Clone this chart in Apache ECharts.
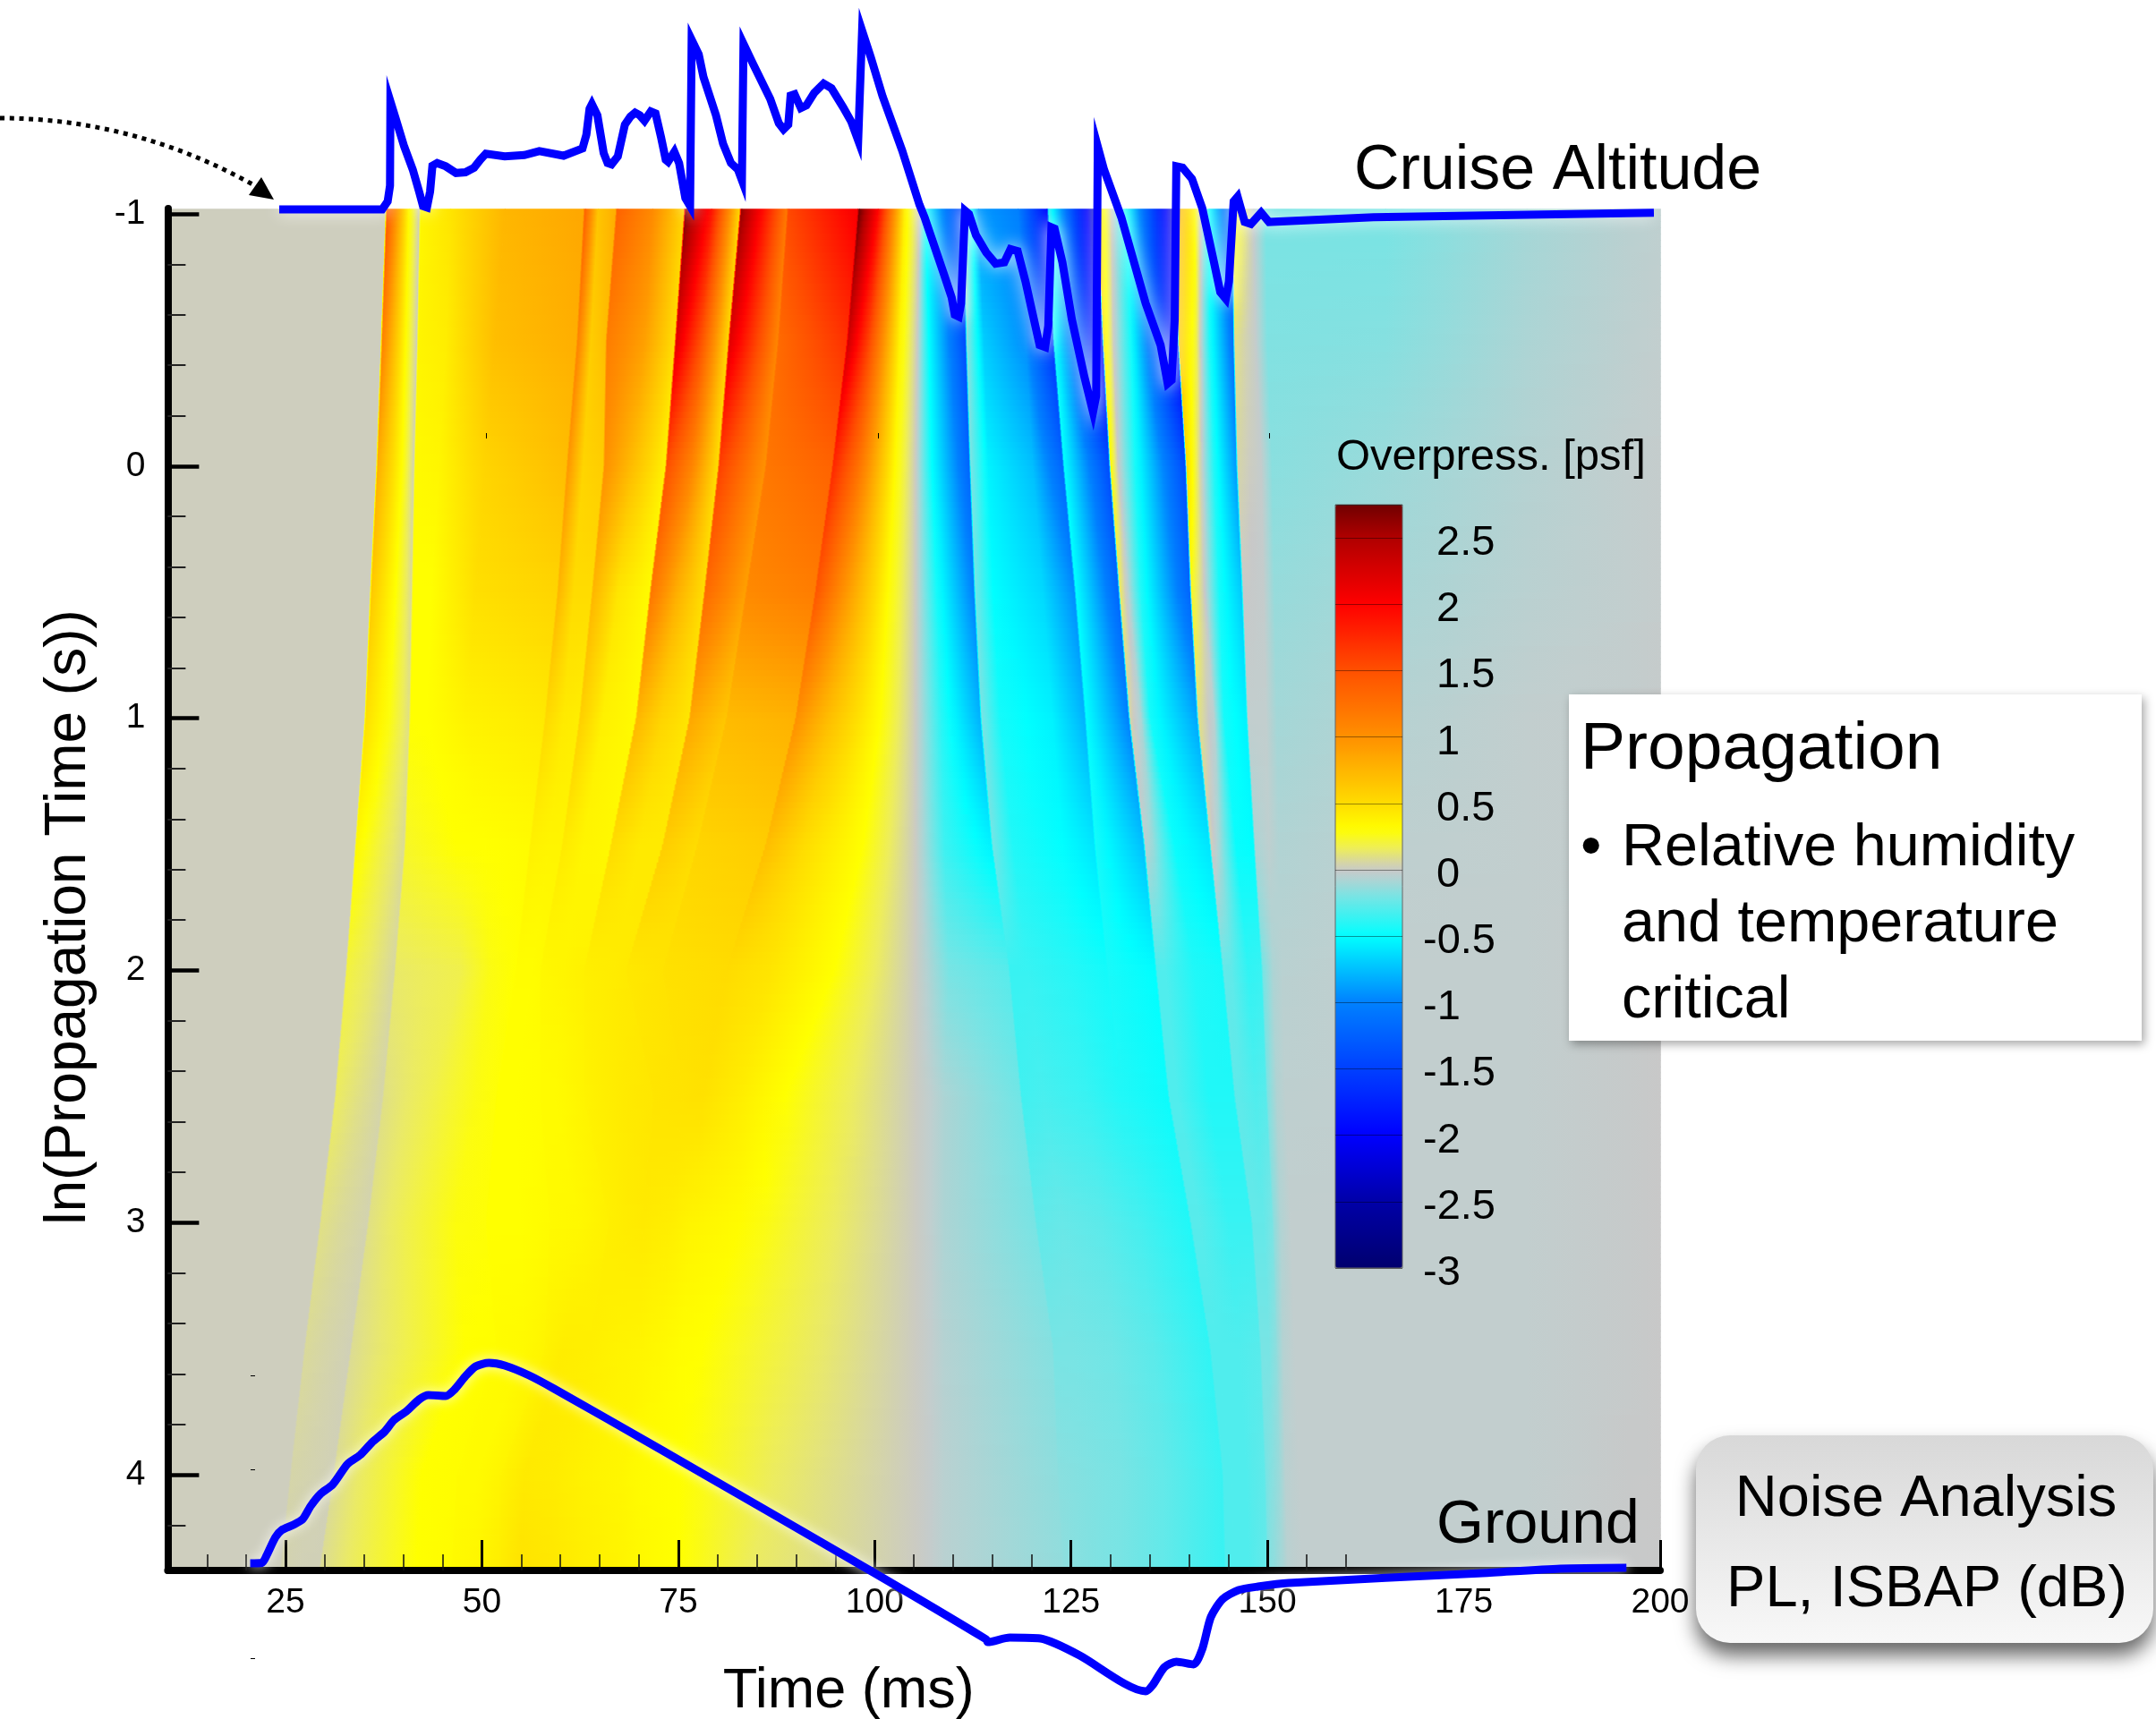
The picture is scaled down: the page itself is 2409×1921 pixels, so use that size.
<!DOCTYPE html>
<html><head><meta charset="utf-8">
<script src="https://cdn.jsdelivr.net/npm/echarts@6/dist/echarts.min.js"></script>
<style>html,body{margin:0;padding:0;background:#fff}#c{width:2409px;height:1921px}</style>
</head><body><div id="c"></div>
<script>
// ---- DATA ----
const xMajorLabels = [25,50,75,100,125,150,175,200];
const xMajorTicks = [25,50,75,100,125,150,200];
const xMinorTicks = [15,20,30,35,40,45,55,60,65,70,80,85,90,95,105,110,115,120,130,135,140,145,155,160];
const yMajorTicks = [-1,0,1,2,3,4];
const yMinorTicks = [-0.8,-0.6,-0.4,-0.2,0.2,0.4,0.6,0.8,1.2,1.4,1.6,1.8,2.2,2.4,2.6,2.8,3.2,3.4,3.6,3.8,4.2];

// ln(propagation time) of each row of the field
const fieldLevels = [-1.02,-0.5,0,0.5,1,1.5,2,2.5,3,3.5,4,4.38];

// Time (ms) of each wave feature at each level; null = the far side of a shock (just after the previous column)
const featureTimes = [
 [10,10,10,10,10,10,10,10,10,10,10,10],
 [37.7,37.1,36.5,35.7,35.0,33.8,32.6,31.2,29.3,27.3,25.5,24.2],
 null,
 [40.7,40.3,39.8,39.0,38.2,37.0,35.7,34.2,32.0,30.1,28.2,27.0],
 [42.0,41.7,41.3,41.0,40.7,40.1,38.8,37.3,35.4,33.2,31.0,29.2],
 null,
 [46.0,45.4,44.5,43.5,42.9,46.7,47.3,43.5,40.4,40.4,37.3,36.0],
 [52.9,51.7,50.4,49.2,47.9,50.4,51.0,49.2,46.7,47.9,42.3,41.7],
 [62.9,62.0,60.7,59.5,57.9,56.0,54.2,51.7,50.4,51.7,46.7,46.0],
 null,
 [64.8,63.9,62.9,61.7,60.4,58.5,56.3,54.2,54.8,55.4,49.2,49.2],
 [67.0,65.7,65.4,63.9,62.3,60.1,57.3,57.3,58.5,57.9,52.3,52.3],
 null,
 [71.7,70.7,69.2,67.3,65.4,62.9,60.4,59.2,62.3,60.4,55.4,54.8],
 [75.7,74.5,73.3,71.3,69.5,66.3,62.9,62.9,66.0,63.5,58.5,57.9],
 null,
 [79.2,77.9,76.7,74.8,72.9,70.1,66.7,68.5,68.5,67.3,62.3,62.3],
 [82.8,81.3,80.0,78.2,76.3,72.9,68.2,71.7,70.4,69.8,67.3,66.7],
 null,
 [88.8,87.6,86.0,83.5,81.0,77.3,72.9,75.4,73.5,72.3,70.4,69.8],
 null,
 [97.8,96.4,94.5,92.3,89.8,86.0,81.0,77.9,76.7,75.4,74.8,74.8],
 null,
 [100.4,99.2,97.9,96.0,94.2,91.0,86.7,82.9,82.9,77.9,77.9,77.9],
 [103.8,103.2,102.6,101.7,100.7,98.5,94.8,88.5,89.8,87.3,87.3,84.2],
 [105.7,105.4,105.2,105.2,105.2,105.2,105.2,105.3,105.3,105.3,105.3,105.3],
 [106.5,106.9,107.3,107.9,108.5,108.9,109.5,108.9,108.9,108.9,108.9,108.9],
 [111.2,111.5,112.0,112.6,113.4,114.8,117.0,118.5,120.4,122.6,123.2,123.9],
 null,
 [113.2,113.9,114.5,115.1,116.0,117.6,119.5,121.4,123.9,125.1,127.0,127.6],
 [118.2,119.2,120.1,121.4,122.6,123.9,124.5,127.0,128.9,130.1,131.4,131.4],
 [121.9,122.6,123.9,125.4,126.7,127.9,129.5,131.4,133.2,135.1,136.4,136.4],
 null,
 [128.2,128.9,129.8,131.0,132.3,134.2,135.7,137.3,140.1,142.6,144.2,144.5],
 null,
 [130.1,130.4,131.0,132.3,133.9,135.4,137.0,138.5,141.4,143.5,145.4,145.7],
 [132.0,132.6,133.2,133.9,135.1,138.2,140.7,142.6,145.1,146.4,147.3,147.6],
 [138.2,138.5,139.5,140.1,141.0,142.6,144.2,145.7,147.9,149.0,149.6,149.9],
 null,
 [140.7,140.9,141.4,142.0,143.2,143.9,145.4,146.7,148.7,149.6,150.2,150.5],
 [142.6,142.7,143.2,143.9,144.5,146.0,147.6,148.5,149.5,150.2,150.7,151.0],
 [145.4,145.6,146.0,146.7,147.3,148.2,149.2,149.8,150.6,151.1,151.5,151.7],
 null,
 [148.2,148.5,149.2,149.5,149.8,150.2,150.7,151.2,151.7,152.0,152.3,152.6],
 [149.8,150.0,150.6,150.9,151.2,151.5,151.9,152.3,153.0,153.5,154.0,154.5],
 [165,165,165,165,165,165,165,165,165,165,165,165],
 [183,183,183,183,183,183,183,183,183,183,183,183],
 [196,196,196,196,196,196,196,196,196,196,196,196],
 [200,200,200,200,200,200,200,200,200,200,200,200]
];

// Overpressure (psf) of each wave feature at each level
const featureValues = [
 [.02,.02,.02,.02,.02,.02,.02,.02,.02,.02,.02,.02],
 [.02,.02,.02,.02,.02,.02,.02,.02,.02,.02,.02,.02],
 [1.45,1.1,.8,.62,.48,.33,.2,.15,.1,.07,.05,.04],
 [.33,.32,.32,.3,.28,.2,.14,.1,.07,.05,.04,.03],
 [.03,.03,.04,.08,.1,.08,.06,.05,.04,.03,.03,.03],
 [.35,.36,.33,.3,.3,.24,.14,.1,.1,.08,.08,.08],
 [.45,.4,.35,.3,.3,.3,.18,.18,.18,.18,.2,.2],
 [.75,.7,.55,.48,.37,.3,.27,.27,.28,.3,.3,.3],
 [.85,.8,.7,.55,.42,.32,.3,.29,.29,.31,.31,.32],
 [1.35,1.1,.95,.75,.52,.38,.31,.3,.3,.32,.32,.33],
 [.65,.6,.55,.5,.42,.36,.31,.3,.3,.33,.32,.35],
 [.8,.7,.6,.5,.4,.36,.32,.31,.32,.36,.36,.4],
 [1.35,1.15,1,.75,.58,.42,.34,.32,.33,.37,.37,.41],
 [1.05,.9,.7,.45,.38,.36,.36,.32,.34,.4,.42,.46],
 [.55,.5,.38,.33,.33,.34,.38,.36,.38,.39,.41,.44],
 [2.7,2.2,1.5,1.2,.75,.5,.39,.37,.39,.39,.41,.44],
 [1.9,1.5,1.1,.8,.55,.42,.41,.42,.41,.37,.38,.4],
 [.55,.55,.5,.5,.45,.42,.42,.44,.42,.36,.35,.37],
 [2.6,2.2,1.6,1.3,.85,.6,.43,.45,.42,.36,.35,.37],
 [1.2,1.1,1,.9,.65,.5,.46,.46,.4,.34,.32,.34],
 [1.55,1.3,1.2,1.05,.72,.55,.47,.46,.4,.34,.32,.34],
 [2.05,1.7,1.35,1.15,.78,.6,.5,.47,.36,.31,.3,.3],
 [2.75,2.3,1.75,1.45,1,.7,.5,.47,.36,.31,.3,.3],
 [2,1.6,1.25,1,.7,.5,.45,.4,.32,.3,.27,.26],
 [.4,.36,.33,.32,.31,.3,.3,.3,.22,.2,.15,.15],
 [.01,.01,.01,.01,.01,.01,.01,.01,.01,.01,.01,.01],
 [-.5,-.5,-.5,-.45,-.4,-.35,-.2,-.08,-.08,-.06,-.05,-.05],
 [-1.5,-1.4,-1.2,-1,-.8,-.55,-.28,-.22,-.2,-.17,-.15,-.14],
 [-.1,-.15,-.2,-.22,-.2,-.22,-.36,-.34,-.26,-.2,-.16,-.15],
 [-.9,-.7,-.55,-.5,-.45,-.42,-.36,-.32,-.24,-.2,-.18,-.18],
 [-1,-.95,-.75,-.65,-.55,-.5,-.4,-.36,-.27,-.22,-.2,-.2],
 [-1.9,-1.6,-1.2,-.95,-.8,-.6,-.45,-.42,-.32,-.27,-.25,-.25],
 [-.35,-.45,-.5,-.5,-.5,-.45,-.44,-.42,-.32,-.27,-.25,-.25],
 [-2.4,-2.1,-1.4,-1.2,-1,-.75,-.5,-.47,-.42,-.38,-.36,-.36],
 [.55,.42,.3,.15,.05,-.05,-.3,-.3,-.28,-.3,-.3,-.3],
 [.02,.01,0,-.05,-.08,-.12,-.3,-.3,-.28,-.3,-.3,-.3],
 [-.45,-.45,-.45,-.42,-.45,-.48,-.42,-.42,-.36,-.3,-.3,-.3],
 [-2.3,-2,-1.4,-1.2,-.85,-.6,-.45,-.42,-.36,-.28,-.26,-.25],
 [.8,.6,.5,.25,.1,.03,-.25,-.26,-.25,-.2,-.2,-.18],
 [.35,.2,.05,0,-.05,-.1,-.26,-.27,-.25,-.2,-.18,-.16],
 [-.5,-.45,-.42,-.45,-.45,-.48,-.38,-.3,-.25,-.2,-.16,-.14],
 [-1.3,-1.1,-.9,-.7,-.55,-.5,-.36,-.28,-.2,-.15,-.12,-.1],
 [.3,.1,.05,0,-.03,-.08,-.2,-.18,-.15,-.12,-.1,-.09],
 [-.02,-.02,-.02,-.02,-.03,-.04,-.08,-.07,-.07,-.06,-.05,-.05],
 [-.2,-.18,-.16,-.13,-.1,-.07,-.05,-.04,-.03,-.03,-.03,-.03],
 [-.2,-.17,-.12,-.09,-.06,-.04,-.03,-.03,-.03,-.03,-.03,-.03],
 [-.1,-.08,-.06,-.05,-.03,-.03,-.03,-.03,-.03,-.03,-.03,-.03],
 [-.05,-.04,-.03,-.03,-.02,-.02,-.01,-.01,-.01,-.01,-.005,-.005],
 [-.04,-.03,-.02,-.02,-.01,0,0,0,0,0,0,0]
];
const shockWidthMs = 0.25;

// Cruise-altitude waveform: [time ms, overpressure psf]
const cruiseWave = [[24.2,0],[37.3,0],[38,.12],[38.3,.36],[38.35,1.63],[39,1.38],[40.1,.95],[41.2,.6],[42,.27],[42.5,.05],[43,.03],[43.4,.27],[43.7,.66],[44.3,.7],[45.4,.65],[46.7,.55],[47.9,.56],[49,.63],[49.8,.75],[50.5,.84],[52.9,.8],[55.4,.82],[57.3,.88],[60.4,.81],[62.8,.92],[63.3,1.13],[63.7,1.52],[64,1.59],[64.7,1.42],[65.5,.85],[66,.7],[66.5,.68],[67.3,.8],[68.2,1.28],[68.9,1.4],[69.5,1.46],[70.1,1.42],[70.7,1.34],[71.5,1.48],[72.1,1.45],[72.8,1.09],[73.4,.75],[73.7,.72],[74.5,.87],[75.1,.7],[75.9,.17],[76.5,.05],[76.7,2.56],[77.6,2.34],[78.2,2],[79.8,1.42],[80.7,.99],[81.7,.7],[82.6,.6],[83.1,.44],[83.3,2.5],[84.5,2.2],[86.7,1.67],[87.8,1.3],[88.4,1.21],[89,1.28],[89.3,1.72],[89.8,1.74],[90.6,1.53],[91.3,1.57],[92.3,1.76],[93.5,1.9],[94.5,1.83],[96,1.54],[97,1.33],[97.9,1.04],[98.4,2.7],[99.5,2.3],[101,1.71],[103.5,.89],[105.7,.07],[106.35,-.12],[108.85,-.99],[109.8,-1.33],[110.2,-1.59],[110.7,-1.62],[111,-1.42],[111.5,-.02],[112,-.07],[112.9,-.39],[114.2,-.65],[115.4,-.82],[116.5,-.8],[117.3,-.6],[118.2,-.63],[119.2,-1.09],[120.1,-1.57],[121,-2.05],[121.7,-2.08],[122.1,-1.76],[122.5,-.27],[122.9,-.29],[123.9,-.8],[125.1,-1.66],[126.7,-2.53],[127.8,-3.06],[128.2,-2.82],[128.4,.95],[129.2,.6],[131.4,-.12],[134.5,-1.42],[136.4,-2.05],[137.3,-2.63],[137.8,-2.58],[138.2,-1.66],[138.4,.65],[139.2,.63],[140.4,.46],[141.7,.02],[143.2,-.8],[144,-1.25],[144.7,-1.35],[145.1,-1.09],[145.7,.12],[146.2,.19],[147.1,-.19],[147.9,-.22],[149.2,-.05],[150.2,-.19],[163.5,-.12],[199.2,-.05]];

// Ground waveform: [time ms, overpressure psf]
const groundWave = [[20.5,.006],[22,.007],[22.6,.024],[23.7,.064],[24.5,.08],[26,.092],[27.2,.105],[28.2,.134],[29.5,.162],[31,.182],[32.9,.228],[34.5,.248],[36,.276],[37.6,.3],[38.8,.326],[40.4,.346],[42,.372],[43.2,.382],[45.4,.38],[46.5,.394],[47.9,.424],[49.2,.446],[50.9,.454],[52.9,.448],[56,.426],[59.2,.396],[72.6,.262],[99.8,-.014],[114.2,-.164],[114.4,-.17],[117.2,-.16],[121.1,-.162],[123.1,-.174],[126.1,-.2],[134.5,-.28],[135.4,-.266],[136.9,-.226],[138.4,-.214],[140.6,-.22],[141.7,-.186],[142.8,-.114],[144.3,-.074],[146.3,-.054],[148.8,-.046],[152.7,-.038],[177.4,-.016],[187.3,-.006],[195.7,-.004]];

// Colour scale of the contour legend
const colorStops = [[-3,'#00006e'],[-2.5,'#0000a8'],[-2,'#0000ff'],[-1.5,'#0040ff'],[-1,'#0080ff'],[-0.5,'#00ffff'],[-0.2,'#78e4e4'],[-0.03,'#c2cece'],[0,'#c8c8c8'],[0.02,'#cecebe'],[0.15,'#ecec60'],[0.3,'#ffff00'],[0.5,'#ffdc00'],[1,'#ff9000'],[1.5,'#ff5000'],[2,'#ff0000'],[2.5,'#b00000'],[2.75,'#700000']];
const legendMin = -3, legendMax = 2.75;

// ---- helpers ----
const FONT = '"Liberation Sans", Arial, Helvetica, sans-serif';
const parsedStops = colorStops.map(s => [s[0], parseInt(s[1].slice(1,3),16), parseInt(s[1].slice(3,5),16), parseInt(s[1].slice(5,7),16)]);
function colorOf(v){
  const p = parsedStops;
  if (v <= p[0][0]) v = p[0][0];
  if (v >= p[p.length-1][0]) v = p[p.length-1][0];
  for (let i=0;i<p.length-1;i++){
    if (v <= p[i+1][0]){
      const f = (v-p[i][0])/(p[i+1][0]-p[i][0]);
      return 'rgb('+[1,2,3].map(k=>Math.round(p[i][k]+(p[i+1][k]-p[i][k])*f)).join(',')+')';
    }
  }
  return 'rgb(0,0,0)';
}
const legendColors = [];
for (let i=0;i<=230;i++) legendColors.push(colorOf(legendMin+(legendMax-legendMin)*i/230));

const resolvedTimes = [];
featureTimes.forEach((col,c)=>{
  resolvedTimes.push(col ? col : resolvedTimes[c-1].map(t=>t+shockWidthMs));
});
const fieldCells = [];
for (let r=0;r<fieldLevels.length-1;r++){
  for (let c=0;c<resolvedTimes.length-1;c++){
    fieldCells.push([resolvedTimes[c][r], fieldLevels[r], featureValues[c][r], r, c]);
  }
}

function renderCell(params, api){
  const r = api.value(3), c = api.value(4);
  const tl = api.coord([resolvedTimes[c][r], fieldLevels[r]]);
  const tr = api.coord([resolvedTimes[c+1][r], fieldLevels[r]]);
  const bl = api.coord([resolvedTimes[c][r+1], fieldLevels[r+1]]);
  const br = api.coord([resolvedTimes[c+1][r+1], fieldLevels[r+1]]);
  const vtl = featureValues[c][r], vtr = featureValues[c+1][r];
  const vbl = featureValues[c][r+1], vbr = featureValues[c+1][r+1];
  const n = Math.max(1, Math.ceil((bl[1]-tl[1])/7));
  const children = [];
  for (let i=0;i<n;i++){
    const a=i/n, b=(i+1)/n, m=(a+b)/2;
    const xl0=tl[0]+(bl[0]-tl[0])*a, xl1=tl[0]+(bl[0]-tl[0])*b;
    const xr0=tr[0]+(br[0]-tr[0])*a, xr1=tr[0]+(br[0]-tr[0])*b;
    const y0=tl[1]+(bl[1]-tl[1])*a, y1=tl[1]+(bl[1]-tl[1])*b;
    const vl=vtl+(vbl-vtl)*m, vr=vtr+(vbr-vtr)*m;
    const ns=Math.max(2,Math.min(12,Math.ceil(Math.abs(vr-vl)*8)+2));
    const stops=[];
    for (let k=0;k<ns;k++){const f=k/(ns-1);stops.push({offset:f,color:colorOf(vl+(vr-vl)*f)});}
    const gx0=(xl0+xl1)/2, gx1=Math.max((xr0+xr1)/2,gx0+0.05);
    children.push({type:'polygon',silent:true,
      shape:{points:[[xl0,y0],[xr0+0.8,y0],[xr1+0.8,y1+0.8],[xl1,y1+0.8]]},
      style:{fill:new echarts.graphic.LinearGradient(gx0,0,gx1,0,stops,true)}});
  }
  return {type:'group',children};
}

const chart = echarts.init(document.getElementById('c'),null,{renderer:'canvas'});
const L=187.4,W=1667.6,T=233,H=1522;
function text(x,y,str,size,align,extra){
  return Object.assign({type:'text',x,y,z:20,silent:true,style:{text:str,font:size+'px '+FONT,fill:'#000',textAlign:align||'left',textVerticalAlign:'middle'}},extra||{});
}
const tinyMarks=[[543,484,1,6],[981,484,1,6],[1418,484,1,6],[280,1537,5,1],[280,1642,5,1],[280,1853,5,1]];
chart.setOption({
  animation:false,
  backgroundColor:'#fff',
  grid:[
    {left:L,top:T,width:W,height:H,outerBoundsMode:'none'},
    {left:L,top:0,width:W,height:500,outerBoundsMode:'none'},
    {left:L,top:1400,width:W,height:521,outerBoundsMode:'none'},
    {left:1492,top:564,width:75,height:853,show:true,z:9,backgroundColor:'transparent',borderColor:'#666',borderWidth:1,outerBoundsMode:'none'}
  ],
  xAxis:[
    {gridIndex:0,type:'value',min:10,max:200,position:'bottom',z:5,
      name:'Time (ms)',nameLocation:'middle',nameGap:104,
      nameTextStyle:{fontFamily:FONT,fontSize:63,color:'#000',padding:[0,146,0,0]},
      axisLine:{show:true,onZero:false,lineStyle:{color:'#000',width:8}},
      axisTick:{show:true,inside:true,length:34,customValues:xMajorTicks,lineStyle:{color:'#000',width:3}},
      axisLabel:{show:true,customValues:xMajorLabels,margin:17,fontFamily:FONT,fontSize:39,color:'#000'},
      splitLine:{show:false}},
    {gridIndex:0,type:'value',min:10,max:200,position:'bottom',z:5,
      axisLine:{show:false,onZero:false},
      axisTick:{show:true,inside:true,length:18,customValues:xMinorTicks,lineStyle:{color:'#111',width:1.5}},
      axisLabel:{show:false},splitLine:{show:false}},
    {gridIndex:1,type:'value',min:10,max:200,show:false},
    {gridIndex:2,type:'value',min:10,max:200,show:false},
    {gridIndex:3,type:'value',min:0,max:1,show:false}
  ],
  yAxis:[
    {gridIndex:0,type:'value',min:-1.021,max:4.379,inverse:true,position:'left',z:5,
      name:'ln(Propagation Time (s))',nameLocation:'middle',nameGap:78,nameRotate:90,
      nameTextStyle:{fontFamily:FONT,fontSize:64,color:'#000',padding:[0,62,0,0]},
      axisLine:{show:true,onZero:false,lineStyle:{color:'#000',width:8}},
      axisTick:{show:true,inside:true,length:35,customValues:yMajorTicks,lineStyle:{color:'#000',width:4.5}},
      axisLabel:{show:true,customValues:yMajorTicks,margin:25,fontFamily:FONT,fontSize:39,color:'#000'},
      splitLine:{show:false}},
    {gridIndex:0,type:'value',min:-1.021,max:4.379,inverse:true,position:'left',z:5,
      axisLine:{show:false,onZero:false},
      axisTick:{show:true,inside:true,length:20,customValues:yMinorTicks,lineStyle:{color:'#222',width:2}},
      axisLabel:{show:false},splitLine:{show:false}},
    {gridIndex:1,type:'value',min:-3.595,max:3.162,show:false},
    {gridIndex:2,type:'value',min:-0.342,max:0.7,show:false},
    {gridIndex:3,type:'value',min:legendMin,max:legendMax,interval:0.5,position:'right',z:9,
      axisLine:{show:false},axisTick:{show:false},
      splitLine:{show:true,lineStyle:{color:'rgba(0,0,0,0.4)',width:1}},
      axisLabel:{show:true,showMaxLabel:false,margin:23,align:'left',
        formatter:v=> (v<0? '' : '{pad|}')+'{n|'+v+'}',
        rich:{pad:{width:15,fontSize:47},n:{fontFamily:FONT,fontSize:47,color:'#000',padding:[12,0,0,0]}}}}
  ],
  visualMap:[{type:'continuous',seriesIndex:0,dimension:2,min:legendMin,max:legendMax,
    left:1492,top:564,itemWidth:75,itemHeight:853,padding:0,calculable:false,showLabel:false,text:['',''],
    inRange:{color:legendColors},z:6,hoverLink:false}],
  series:[
    {type:'custom',xAxisIndex:0,yAxisIndex:0,coordinateSystem:'cartesian2d',z:2,silent:true,
      encode:{x:0,y:1},data:fieldCells,renderItem:renderCell,progressive:0,clip:true},
    {type:'line',xAxisIndex:2,yAxisIndex:2,z:8,data:cruiseWave,showSymbol:false,symbol:'none',silent:true,clip:false,
      lineStyle:{color:'#0000ff',width:9,cap:'butt',join:'miter',miterLimit:12,shadowColor:'rgba(255,255,255,0.85)',shadowBlur:18}},
    {type:'line',xAxisIndex:3,yAxisIndex:3,z:8,data:groundWave,showSymbol:false,symbol:'none',silent:true,clip:false,smooth:0.25,
      lineStyle:{color:'#0000ff',width:9,cap:'butt',join:'round',shadowColor:'rgba(255,255,255,0.85)',shadowBlur:14}}
  ],
  graphic:{elements:[
    {type:'bezierCurve',z:20,silent:true,shape:{x1:0,y1:132,cpx1:105,cpy1:132,cpx2:200,cpy2:160,x2:284,y2:207},
      style:{stroke:'#000',lineWidth:5,lineDash:[5,5.7],fill:'none'}},
    {type:'polygon',z:20,silent:true,shape:{points:[[306,223],[292,198],[278,218]]},style:{fill:'#000'}},
    text(1513,192,'Cruise Altitude',70),
    text(1605,1705,'Ground',68),
    text(1493,511,'Overpress. [psf]',49),
    {type:'rect',z:18,silent:true,shape:{x:1753,y:776,width:640,height:387},
      style:{fill:'#fff',shadowColor:'rgba(0,0,0,0.35)',shadowBlur:10,shadowOffsetX:3,shadowOffsetY:4}},
    text(1766,838,'Propagation',75),
    text(1766,949,'•',67),
    text(1812,949,'Relative humidity',66.5),
    text(1812,1034,'and temperature',66.5),
    text(1812,1119,'critical',66.5),
    {type:'rect',z:18,silent:true,shape:{x:1895,y:1604,width:511,height:232,r:38},
      style:{fill:new echarts.graphic.LinearGradient(0,0,0,1,[{offset:0,color:'#d8d8d8'},{offset:1,color:'#f8f8f8'}]),
        shadowColor:'rgba(0,0,0,0.6)',shadowBlur:22,shadowOffsetY:14}},
    text(2152,1676,'Noise Analysis',65,'center'),
    text(2153,1777,'PL, ISBAP (dB)',65,'center')
  ].concat(tinyMarks.map(m=>({type:'rect',z:20,silent:true,shape:{x:m[0],y:m[1],width:m[2],height:m[3]},style:{fill:'#000'}})))}
});
</script>
</body></html>
